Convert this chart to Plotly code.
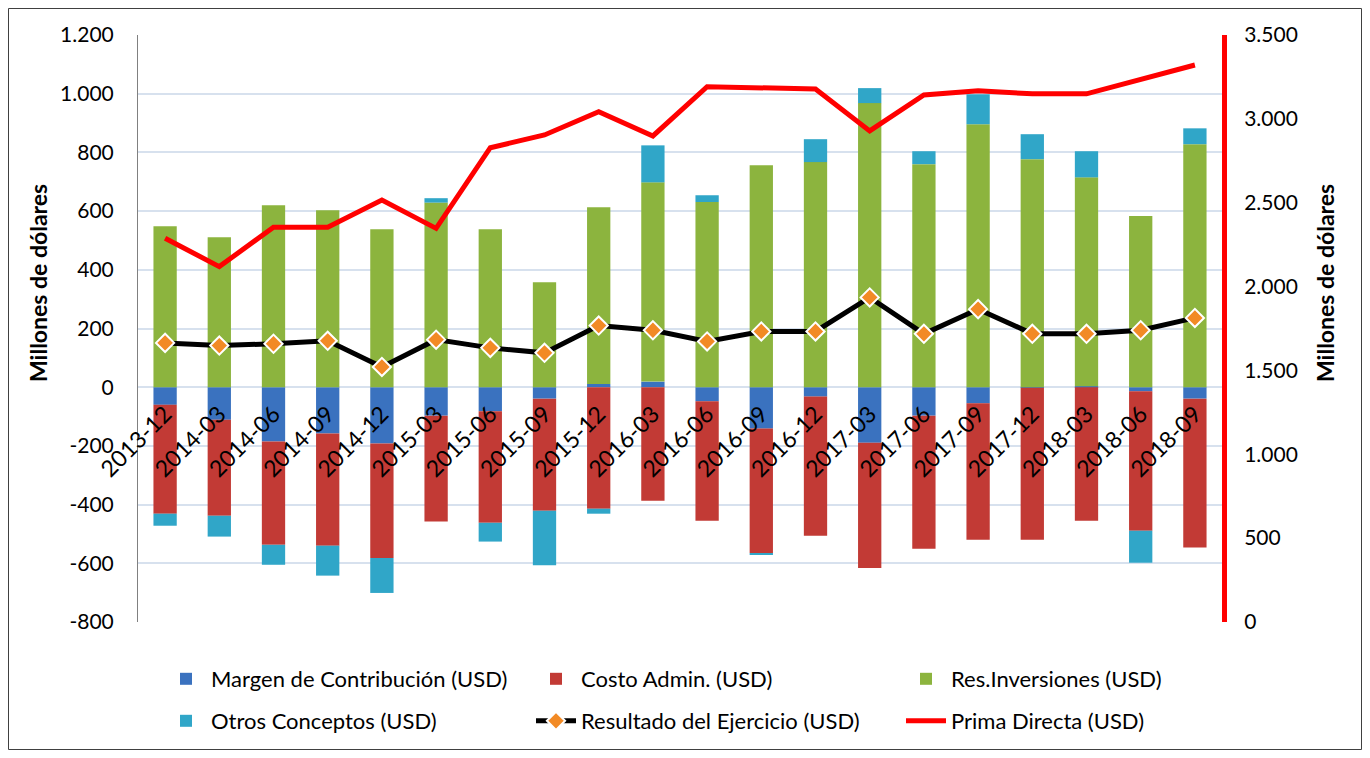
import plotly.graph_objects as go

# =========================
# DATA (millones de USD)
# =========================
periodos = ["2013-12", "2014-03", "2014-06", "2014-09", "2014-12", "2015-03", "2015-06",
            "2015-09", "2015-12", "2016-03", "2016-06", "2016-09", "2016-12", "2017-03",
            "2017-06", "2017-09", "2017-12", "2018-03", "2018-06", "2018-09"]

margen = [-60, -111, -185, -158, -192, -97, -82, -39, 11, 19,
          -48, -141, -32, -189, -97, -55, -2, 3, -14, -39]
costo_admin = [-371, -327, -352, -382, -390, -361, -380, -382, -414, -387,
               -407, -424, -474, -427, -453, -465, -518, -455, -475, -507]
res_inversiones = [548, 511, 620, 603, 538, 629, 538, 358, 602, 679,
                   631, 756, 767, 968, 760, 896, 777, 712, 583, 828]
otros = [-41, -71, -68, -102, -119, 15, -64, -186, -17, 126,
         23, -4, 78, 51, 44, 102, 85, 89, -109, 54]
resultado = [151, 142, 148, 158, 69, 162, 134, 117, 210, 194,
             156, 190, 190, 306, 182, 266, 182, 182, 194, 236]
prima_directa = [2288, 2119, 2354, 2354, 2516, 2347, 2828, 2904, 3043, 2898,
                 3192, 3186, 3178, 2928, 3142, 3168, 3149, 3149, 3232, 3321]

left_ticks = [-800, -600, -400, -200, 0, 200, 400, 600, 800, 1000, 1200]
left_labels = ["-800", "-600", "-400", "-200", "0", "200", "400", "600", "800", "1.000", "1.200"]
right_ticks = [0, 500, 1000, 1500, 2000, 2500, 3000, 3500]
right_labels = ["0", "500", "1.000", "1.500", "2.000", "2.500", "3.000", "3.500"]
axis_title = "Millones de dólares"

FONT = "Lato"
GRID = "#d7e1ee"

# the page adds an 8px body margin, so the figure is drawn 8px smaller
# plot area (page px): x 138..1222, y 35..622
W, H = 1354, 742
PW, PH = 1084, 587


def lx(px):
    return (px - 138) / PW


def ly(px):
    return -(px - 622) / PH


fig = go.Figure()

bar_series = [
    ("Margen de Contribución (USD)", margen, "#3a72bf", "legend"),
    ("Costo Admin. (USD)", costo_admin, "#c23a35", "legend2"),
    ("Res.Inversiones (USD)", res_inversiones, "#8cb43e", "legend3"),
    ("Otros Conceptos (USD)", otros, "#30a6c8", "legend4"),
]
for name, vals, color, leg in bar_series:
    fig.add_trace(go.Bar(x=periodos, y=vals, name=name, marker_color=color,
                         marker_line_width=0, legend=leg))

fig.add_trace(go.Scatter(
    x=periodos, y=resultado, name="Resultado del Ejercicio (USD)",
    mode="lines+markers", line=dict(color="black", width=5),
    marker=dict(symbol="diamond", size=14, color="#f28a25",
                line=dict(color="white", width=2)),
    legend="legend5"
))
fig.add_trace(go.Scatter(
    x=periodos, y=prima_directa, name="Prima Directa (USD)", yaxis="y2",
    mode="lines", line=dict(color="#ff0000", width=5), legend="legend6"
))

leg_common = dict(orientation="h", xanchor="left", yanchor="top",
                  bgcolor="rgba(0,0,0,0)", font=dict(size=22), itemwidth=40)
row1, row2 = ly(658), ly(700)
cols = [lx(161), lx(531), lx(901)]

fig.update_layout(
    width=W, height=H,
    barmode="relative", bargap=0.57,
    paper_bgcolor="white", plot_bgcolor="white",
    font=dict(family=FONT, size=21, color="black"),
    margin=dict(l=130, r=W - 1214, t=27, b=H - 614, autoexpand=False),
    xaxis=dict(type="category", range=[-0.5, len(periodos) - 0.5],
               anchor="free", position=0.4, tickangle=-45, ticklabelstandoff=8,
               showline=False, ticks="", showgrid=False, zeroline=False,
               automargin=False, tickfont=dict(size=23)),
    yaxis=dict(range=[-800, 1200], tickvals=left_ticks, ticktext=left_labels,
               showgrid=True, gridcolor=GRID, gridwidth=2, zeroline=False,
               showline=True, linecolor="#808080", linewidth=1, ticks="",
               ticklabelstandoff=19, automargin=False),
    yaxis2=dict(range=[0, 3500], tickvals=right_ticks, ticktext=right_labels,
                overlaying="y", side="right", showgrid=False, zeroline=False,
                showline=True, linecolor="#ff0000", linewidth=5, ticks="",
                ticklabelstandoff=13, automargin=False),
    legend=dict(x=cols[0], y=row1, **leg_common),
    legend2=dict(x=cols[1], y=row1, **leg_common),
    legend3=dict(x=cols[2], y=row1, **leg_common),
    legend4=dict(x=cols[0], y=row2, **leg_common),
    legend5=dict(x=cols[1], y=row2, **leg_common),
    legend6=dict(x=cols[2], y=row2, **leg_common),
    showlegend=True,
)

# axis titles sit above the vertical centre in the original
for xp in (38, 1325):
    fig.add_annotation(text=f"<b>{axis_title}</b>", xref="paper", yref="paper",
                       x=lx(xp), y=ly(283), xanchor="center", yanchor="middle",
                       textangle=-90, showarrow=False, font=dict(size=23))

# thin frame around the whole chart (figure pixel coords)
fig.add_shape(type="rect", xref="paper", yref="paper",
              x0=(0.5 - 130) / PW, x1=(W - 0.5 - 130) / PW,
              y0=-(H - 0.5 - 614) / PH, y1=-(0.5 - 614) / PH,
              line=dict(color="#404040", width=1), fillcolor="rgba(0,0,0,0)", layer="below")

fig.write_html("out.html")
